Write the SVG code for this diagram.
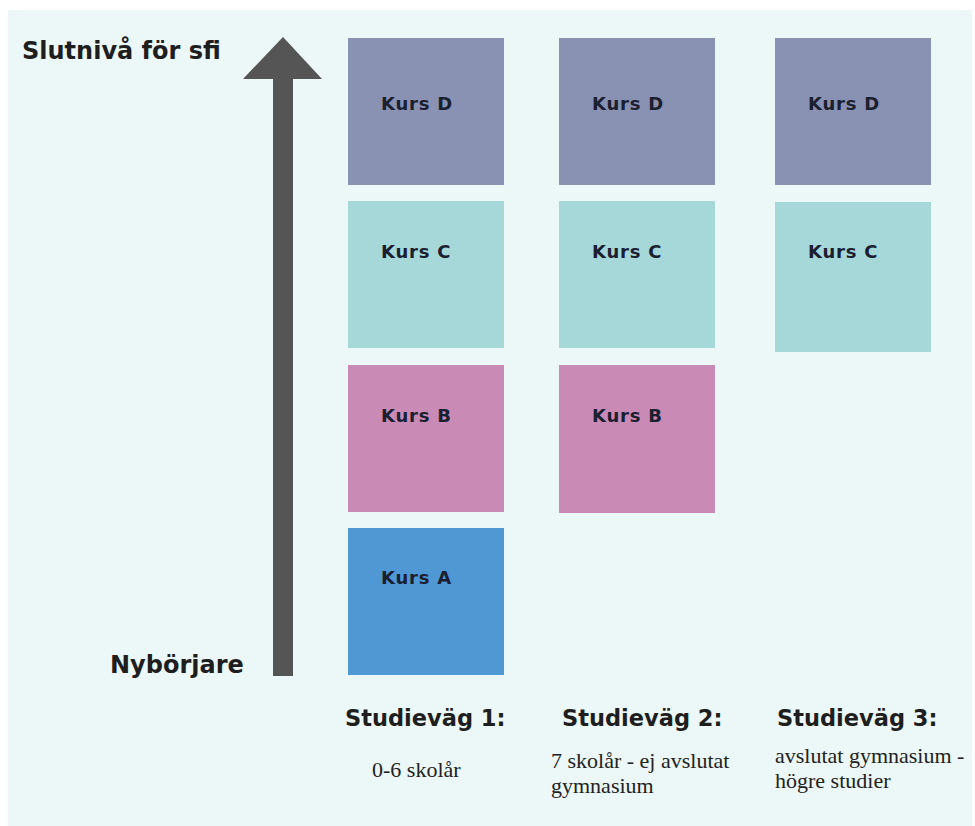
<svg xmlns="http://www.w3.org/2000/svg" width="975" height="826" viewBox="0 0 975 826">
<style>
.h{font-family:"DejaVu Sans","Liberation Sans",sans-serif;font-weight:bold;fill:#1e1e1e}
.k{font-family:"DejaVu Sans","Liberation Sans",sans-serif;font-weight:bold;font-size:18px;fill:#1a2030;letter-spacing:0.8px}
.s{font-family:"Liberation Serif","Times New Roman",serif;font-size:22px;fill:#222}
.d{fill:#8a92b3}.c{fill:#a6d8da}.b{fill:#c98ab5}.a{fill:#4f98d4}
</style>
<rect x="0" y="0" width="975" height="826" fill="#ffffff"/>
<rect x="8" y="10" width="964" height="816" fill="#ecf7f7"/>
<g id="axis">
<polygon points="283,37 322,79 293,79 293,676 273,676 273,79 243,79" fill="#555555"/>
<text class="h" x="22" y="59" font-size="24">Slutnivå för sfi</text>
<text class="h" x="110" y="673" font-size="24">Nybörjare</text>
</g>
<g id="v1">
<g id="v1-d"><rect class="d" x="348" y="38" width="156" height="147"/><text class="k" x="381" y="110">Kurs D</text></g>
<g id="v1-c"><rect class="c" x="348" y="201" width="156" height="147"/><text class="k" x="381" y="258">Kurs C</text></g>
<g id="v1-b"><rect class="b" x="348" y="365" width="156" height="147"/><text class="k" x="381" y="422">Kurs B</text></g>
<g id="v1-a"><rect class="a" x="348" y="528" width="156" height="147"/><text class="k" x="381" y="584">Kurs A</text></g>
<text class="h" x="345" y="726" font-size="22.5">Studieväg 1:</text>
<text class="s" x="372" y="777" font-size="20">0-6 skolår</text>
</g>
<g id="v2">
<g id="v2-d"><rect class="d" x="559" y="38" width="156" height="147"/><text class="k" x="592" y="110">Kurs D</text></g>
<g id="v2-c"><rect class="c" x="559" y="201" width="156" height="147"/><text class="k" x="592" y="258">Kurs C</text></g>
<g id="v2-b"><rect class="b" x="559" y="365" width="156" height="148"/><text class="k" x="592" y="422">Kurs B</text></g>
<text class="h" x="562" y="726" font-size="22.5">Studieväg 2:</text>
<text class="s" x="551" y="768">7 skolår - ej avslutat</text>
<text class="s" x="551" y="793">gymnasium</text>
</g>
<g id="v3">
<g id="v3-d"><rect class="d" x="775" y="38" width="156" height="147"/><text class="k" x="808" y="110">Kurs D</text></g>
<g id="v3-c"><rect class="c" x="775" y="202" width="156" height="150"/><text class="k" x="808" y="258">Kurs C</text></g>
<text class="h" x="777" y="726" font-size="22.5">Studieväg 3:</text>
<text class="s" x="775" y="763">avslutat gymnasium -</text>
<text class="s" x="775" y="788">högre studier</text>
</g>
</svg>
